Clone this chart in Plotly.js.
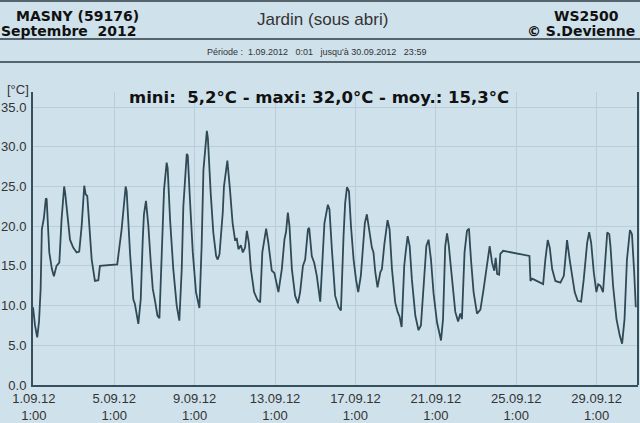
<!DOCTYPE html>
<html><head><meta charset="utf-8">
<script src="https://cdn.plot.ly/plotly-3.0.1.min.js"></script>
<style>html,body{margin:0;padding:0;background:#cfe1eb;} #chart{width:640px;height:423px;}</style>
</head><body><div id="chart"></div>
<script>
// elapsed days since 1.09.2012 0:00
const dayOffset = [0.00,0.10,0.21,0.30,0.38,0.44,0.54,0.64,0.68,0.81,0.94,1.04,1.17,1.31,1.42,1.55,1.60,1.75,1.84,2.00,2.17,2.30,2.42,2.55,2.62,2.70,2.80,2.92,3.08,3.25,3.33,4.19,4.41,4.61,4.66,4.83,4.99,5.07,5.24,5.36,5.46,5.52,5.62,5.74,5.86,5.96,6.07,6.19,6.29,6.40,6.52,6.65,6.70,6.82,6.98,7.15,7.28,7.40,7.48,7.65,7.70,7.81,7.95,8.11,8.28,8.39,8.48,8.65,8.70,8.84,8.97,9.11,9.19,9.28,9.44,9.50,9.67,9.80,9.93,10.05,10.14,10.22,10.34,10.44,10.55,10.64,10.74,10.84,11.00,11.17,11.30,11.41,11.50,11.60,11.71,11.88,12.01,12.21,12.38,12.51,12.59,12.68,12.76,12.88,13.04,13.18,13.29,13.43,13.54,13.68,13.74,13.87,13.99,14.12,14.29,14.42,14.50,14.67,14.75,14.87,15.03,15.20,15.32,15.45,15.53,15.62,15.72,15.82,15.95,16.07,16.18,16.31,16.41,16.51,16.61,16.74,16.86,16.94,17.03,17.14,17.28,17.36,17.48,17.64,17.74,17.86,18.02,18.14,18.24,18.34,18.47,18.54,18.64,18.74,18.85,19.02,19.18,19.30,19.47,19.57,19.68,19.80,19.93,20.10,20.30,20.40,20.51,20.60,20.68,20.85,21.01,21.15,21.26,21.34,21.47,21.59,21.69,21.79,21.92,22.09,22.26,22.42,22.59,22.72,22.84,22.95,23.02,23.09,23.19,23.25,23.39,24.70,24.75,24.83,24.91,25.16,25.38,25.49,25.61,25.71,25.83,25.99,26.24,26.41,26.57,26.70,26.82,26.95,27.10,27.27,27.40,27.57,27.67,27.77,27.90,28.03,28.12,28.23,28.36,28.47,28.57,28.67,28.73,28.86,29.03,29.19,29.31,29.43,29.55,29.70,29.80,29.91,29.99];
const temperature = [9.8,7.5,6.0,8.0,12.1,19.6,21.0,23.5,23.4,16.7,14.6,13.7,15.0,15.4,20.8,25.0,24.2,20.8,18.3,17.3,16.7,16.8,20.0,25.1,24.0,23.8,19.6,15.8,13.1,13.2,15.0,15.2,19.6,25.0,24.4,16.5,10.8,10.2,7.7,10.8,18.3,21.5,23.2,20.0,15.4,12.1,10.6,8.75,8.4,15.8,24.6,28.0,27.3,20.8,14.6,10.0,8.1,14.6,22.5,29.1,28.9,23.3,16.7,11.7,9.7,17.5,27.1,32.0,31.1,24.2,19.2,16.25,15.8,16.5,21.7,25.0,28.25,24.6,20.4,18.3,18.4,17.1,17.6,16.7,17.3,19.4,17.9,14.6,11.7,10.7,10.4,16.7,18.2,19.7,17.9,14.4,14.1,11.7,14.6,18.3,19.3,21.7,20.0,14.6,11.25,10.3,11.7,15.0,15.8,19.6,19.8,16.25,15.4,13.75,10.5,16.7,20.4,22.7,22.1,17.1,11.25,9.8,9.4,18.75,22.9,24.9,24.4,20.0,15.8,13.3,11.7,13.75,16.7,20.4,21.5,19.2,17.3,16.7,14.2,12.3,14.2,14.6,17.7,20.75,19.6,14.6,10.4,9.2,8.6,7.3,15.0,16.7,18.75,17.5,13.3,8.75,6.9,7.5,14.2,17.5,18.3,15.8,11.5,7.9,5.6,8.3,17.5,19.1,17.7,13.3,9.2,8.0,9.0,8.3,16.7,19.4,19.7,15.8,11.7,9.0,9.5,12.1,15.0,17.5,15.4,14.4,16.0,14.0,13.9,16.5,16.9,16.25,13.1,13.4,13.3,13.0,12.7,15.8,18.25,17.3,14.6,13.1,12.9,13.75,18.25,15.8,13.75,11.7,10.6,10.5,13.3,17.9,19.25,17.9,14.2,11.7,12.7,12.5,11.7,15.8,19.2,19.0,17.5,12.5,8.3,6.25,5.2,8.3,15.8,19.5,19.0,14.2,9.8];
const tickDates = ['2012-09-01 01:00','2012-09-05 01:00','2012-09-09 01:00','2012-09-13 01:00','2012-09-17 01:00','2012-09-21 01:00','2012-09-25 01:00','2012-09-29 01:00'];
const tickLabels = ['1.09.12<br>1:00','5.09.12<br>1:00','9.09.12<br>1:00','13.09.12<br>1:00','17.09.12<br>1:00','21.09.12<br>1:00','25.09.12<br>1:00','29.09.12<br>1:00'];
const yTicks = [0,5,10,15,20,25,30,35];
const yTickLabels = ['0.0','5.0','10.0','15.0','20.0','25.0','30.0','35.0'];

const start = Date.UTC(2012, 8, 1, 0, 0);
const times = dayOffset.map(d => new Date(start + Math.round(d * 1440) * 60000).toISOString().slice(0, 16).replace('T', ' '));

const L = 33, T = 92, W = 605, H = 293;
const px = x => (x - L) / W;
const py = y => (T + H - y) / H;

const bold = {family: 'DejaVu Sans', size: 14, color: '#111', weight: 'bold'};
const ann = (text, x, y, xa, font) => ({text, x: px(x), y: py(y), xref: 'paper', yref: 'paper', xanchor: xa, yanchor: 'middle', showarrow: false, font});

const layout = {
  width: 640, height: 423,
  margin: {l: L, r: 640 - L - W, t: T, b: 423 - T - H},
  paper_bgcolor: '#cfe1eb', plot_bgcolor: '#cfe1eb',
  showlegend: false,
  xaxis: {type: 'date', range: ['2012-09-01 00:00', '2012-10-01 02:24'], tickmode: 'array', tickvals: tickDates, ticktext: tickLabels,
    showgrid: true, gridcolor: '#b8cfdb', gridwidth: 1, showline: true, linecolor: '#35505c', linewidth: 2, ticks: '', zeroline: false,
    tickfont: {family: 'Liberation Sans', size: 13, color: '#333'}},
  yaxis: {range: [0, 36.9], tickmode: 'array', tickvals: yTicks, ticktext: yTickLabels, showgrid: true, gridcolor: '#b8cfdb', gridwidth: 1,
    showline: true, linecolor: '#35505c', linewidth: 2, ticks: '', zeroline: false, ticklabelstandoff: 2,
    tickfont: {family: 'Liberation Sans', size: 13, color: '#333'}},
  shapes: [
    {type: 'line', xref: 'paper', yref: 'paper', x0: 1, x1: 1, y0: 0, y1: 1, line: {color: '#35505c', width: 2}},
    {type: 'line', xref: 'paper', yref: 'paper', x0: px(0), x1: px(640), y0: py(39), y1: py(39), line: {color: '#56656d', width: 2}},
    {type: 'line', xref: 'paper', yref: 'paper', x0: px(0), x1: px(640), y0: py(62), y1: py(62), line: {color: '#56656d', width: 2}},
    {type: 'line', xref: 'paper', yref: 'paper', x0: px(0), x1: px(640), y0: py(1), y1: py(1), line: {color: '#56656d', width: 2}}
  ],
  annotations: [
    ann('MASNY (59176)', 77, 16, 'center', bold),
    ann('Septembre  2012', 69, 31, 'center', bold),
    ann('Jardin (sous abri)', 322, 19, 'center', {family: 'Liberation Sans', size: 17, color: '#333'}),
    ann('WS2500', 621, 16, 'right', bold),
    ann('© S.Devienne', 637, 31, 'right', bold),
    ann('Période :  1.09.2012   0:01   jusqu\'à 30.09.2012   23:59', 316, 52, 'center', {family: 'Liberation Sans', size: 9, color: '#333'}),
    ann('mini:  5,2°C - maxi: 32,0°C - moy.: 15,3°C', 319, 98, 'center', {family: 'DejaVu Sans', size: 16.5, color: '#111', weight: 'bold'}),
    ann('[°C]', 18, 90, 'center', {family: 'Liberation Sans', size: 13, color: '#333'})
  ]
};

Plotly.newPlot('chart', [{x: times, y: temperature, type: 'scatter', mode: 'lines', line: {color: '#2f4a56', width: 1.8}, hoverinfo: 'skip'}], layout, {staticPlot: true});
</script></body></html>
